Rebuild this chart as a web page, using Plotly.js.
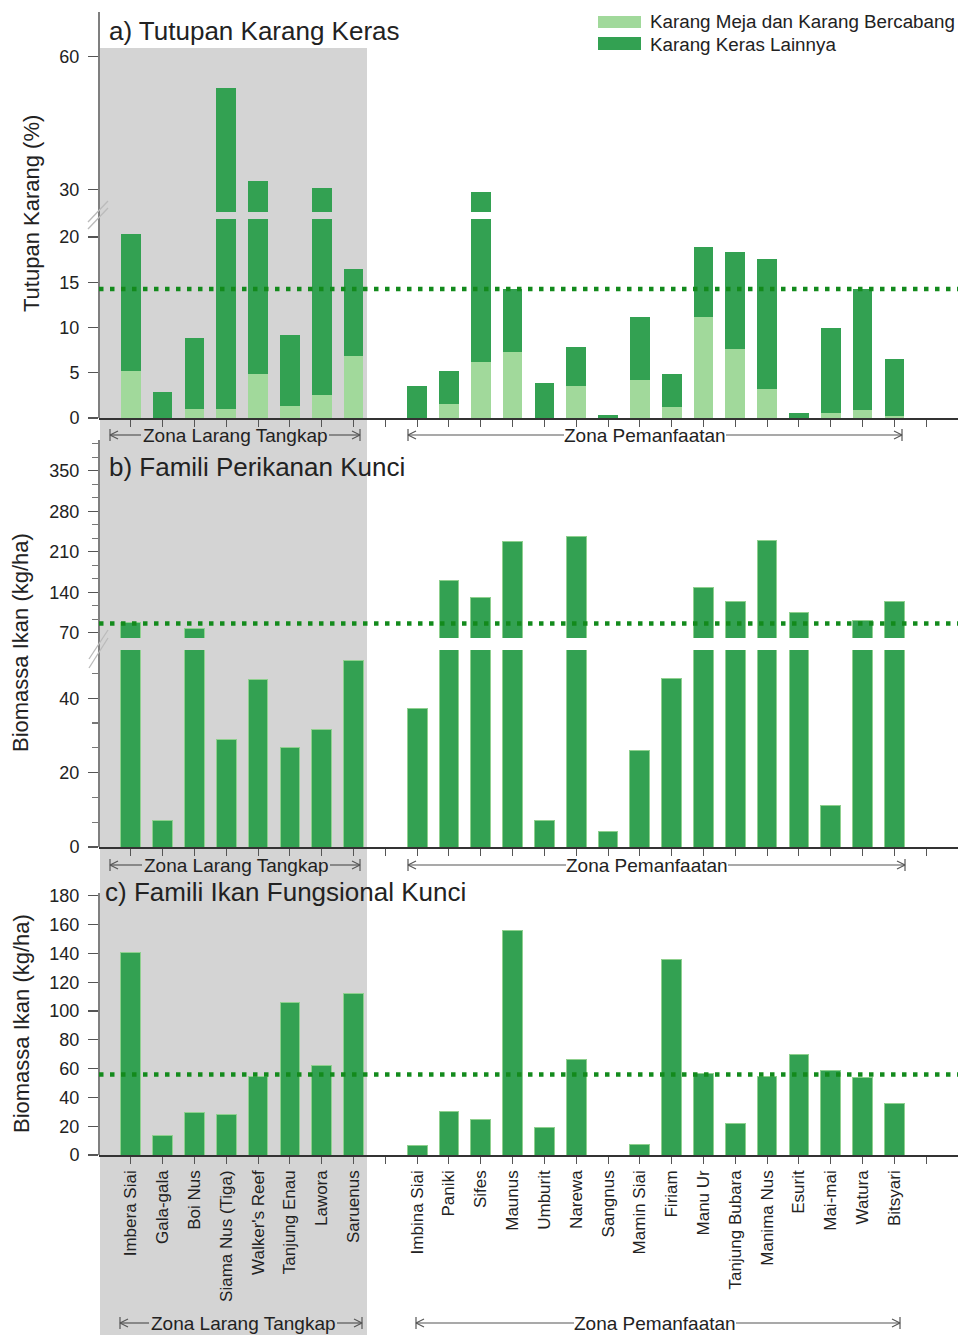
<!DOCTYPE html>
<html><head><meta charset="utf-8">
<script src="https://cdn.plot.ly/plotly-3.0.1.min.js"></script>
<style>html,body{margin:0;padding:0;background:#fff}#chart{width:962px;height:1335px}</style>
</head><body><div id="chart"></div>
<script>
// ---------------- DATA ----------------
const noTakeSites = ['Imbera Siai','Gala-gala','Boi Nus','Siama Nus (Tiga)',"Walker's Reef",'Tanjung Enau','Lawora','Saruenus'];
const useSites = ['Imbina Siai','Paniki','Sifes','Maunus','Umburit','Narewa','Sangnus','Mamin Siai','Firiam','Manu Ur','Tanjung Bubara','Manima Nus','Esurit','Mai-mai','Watura','Bitsyari'];
// a) hard coral cover (%)
const tableBranching = [5.2,0,1.0,1.0,4.9,1.3,2.5,6.9,  0,1.5,6.2,7.3,0,3.5,0,4.2,1.2,11.2,7.6,3.2,0,0.55,0.9,0.2];
const otherHard      = [15.1,2.9,7.9,51.9,27.1,7.9,27.8,9.6,  3.5,3.7,23.4,7.0,3.9,4.4,0.3,7.0,3.7,7.7,10.7,14.4,0.55,9.35,13.4,6.3];
// b) key fisheries families biomass (kg/ha)
const keyFisheries   = [87,7.0,77.6,28.9,45.0,26.9,31.7,50.3,  37.3,160.5,130.4,228.4,7.0,236.5,4.1,25.9,45.3,148.4,124.7,230,104.5,11.3,91.4,123.5];
// c) key functional families biomass (kg/ha)
const keyFunctional  = [140.4,13.4,29.2,27.8,54.4,106.1,62.1,112.1,  6.5,30.1,25.0,155.7,19.2,66,0,7.6,136,56.7,22,54.4,69.5,58.4,54,35.9];
// reference (mean) lines
const meanCover = 14.25, meanFisheries = 86, meanFunctional = 56;
// axis ticks
const ticksALow = [0,5,10,15,20], ticksAHigh = [30,60];

// ---------------- HELPERS ----------------
const sites = [...noTakeSites, ...useSites];
const cats = [...noTakeSites, ' ', ...useSites, '  '];
const W = 962, H = 1335, ML = 99, MR = 4;
const X = px => (px - ML) / (W - ML - MR);
const Y = py => 1 - py / H;

const DARK = '#33a152', LIGHT = '#a1d99b', DOT = '#138a1c', GREY = '#d4d4d4';
const FONT = 'Liberation Sans, Arial, sans-serif';
const edge = {color: '#8fd08f', width: 1};

const traces = [];
// panel a (lower + upper broken segments)
[['x','y'],['x','y2']].forEach(([xa, ya]) => {
  traces.push({type:'bar', x: sites, y: tableBranching, xaxis: xa, yaxis: ya, name: 'Karang Meja dan Karang Bercabang', marker:{color: LIGHT}, hoverinfo:'x+y'});
  traces.push({type:'bar', x: sites, y: otherHard, xaxis: xa, yaxis: ya, name: 'Karang Keras Lainnya', marker:{color: DARK}, hoverinfo:'x+y'});
});
// panel b
[['x2','y3'],['x2','y4']].forEach(([xa, ya]) => {
  traces.push({type:'bar', x: sites, y: keyFisheries, xaxis: xa, yaxis: ya, marker:{color: DARK, line: edge}});
});
// panel c
traces.push({type:'bar', x: sites, y: keyFunctional, xaxis: 'x3', yaxis: 'y5', marker:{color: DARK, line: edge}});

const xBase = {
  type:'category', categoryorder:'array', categoryarray: cats, range:[-1, 26],
  showline:true, linecolor:'#333', linewidth:1.5, ticks:'outside', ticklen:7, tickcolor:'#555', tickwidth:1,
  showgrid:false, zeroline:false, showticklabels:false, fixedrange:true, domain:[0,1]
};
const yBase = {
  showline:false, showgrid:false, zeroline:false, ticks:'outside', ticklen:10, tickcolor:'#555', tickwidth:1.2,
  ticklabelstandoff:5,
  tickfont:{size:18, color:'#222', family:FONT}, fixedrange:true
};

const shapes = [];
const annotations = [];
// grey no-take zone band
shapes.push({type:'rect', xref:'paper', yref:'paper', x0:X(100), x1:X(367), y0:0, y1:Y(48), fillcolor:GREY, line:{width:0}, layer:'below'});
// y axis lines
[[418,12],[847,440],[1155,893]].forEach(([b,t]) => shapes.push({type:'line', xref:'paper', yref:'paper', x0:X(99), x1:X(99), y0:Y(b), y1:Y(t), line:{color:'#555', width:1.5}}));
// axis break marks
[[[88,222],[108,201]],[[88,229],[108,208]],[[89,659],[108,630]],[[89,668],[108,638]]].forEach(([p,q]) =>
  shapes.push({type:'line', xref:'paper', yref:'paper', x0:X(p[0]), y0:Y(p[1]), x1:X(q[0]), y1:Y(q[1]), line:{color:'#bbbbbb', width:1.3}}));
// mean dotted lines
[['y',meanCover],['y4',meanFisheries],['y5',meanFunctional]].forEach(([ya,v]) =>
  shapes.push({type:'line', xref:'paper', yref:ya, x0:0, x1:1, y0:v, y1:v, line:{color:DOT, width:4.5, dash:'4.5px,6.5px'}, layer:'above'}));

// zone brackets
function bracket(x1, x2, y, cx, half, label) {
  const c = '#555', lw = 1.2;
  const L = (a,b,cc,d) => shapes.push({type:'line', xref:'paper', yref:'paper', x0:X(a), y0:Y(b), x1:X(cc), y1:Y(d), line:{color:c, width:lw}});
  L(x1, y, cx - half, y); L(cx + half, y, x2, y);
  L(x1, y-6, x1, y+6); L(x1, y, x1+8, y-4); L(x1, y, x1+8, y+4);
  L(x2, y-6, x2, y+6); L(x2, y, x2-8, y-4); L(x2, y, x2-8, y+4);
  annotations.push({xref:'paper', yref:'paper', x:X(cx), y:Y(y), text:label, showarrow:false, xanchor:'center', yanchor:'middle', font:{size:19, color:'#222', family:FONT}});
}
bracket(110, 360, 435, 235, 94, 'Zona Larang Tangkap');
bracket(408, 902, 435, 645, 81, 'Zona Pemanfaatan');
bracket(110, 360, 865, 236, 94, 'Zona Larang Tangkap');
bracket(408, 905, 865, 647, 81, 'Zona Pemanfaatan');
bracket(120, 362, 1323, 243, 94, 'Zona Larang Tangkap');
bracket(416, 900, 1323, 655, 81, 'Zona Pemanfaatan');

// panel titles
[['a) Tutupan Karang Keras',107,31],['b) Famili Perikanan Kunci',107,467],['c) Famili Ikan Fungsional Kunci',103,892]].forEach(([t,x,y]) =>
  annotations.push({xref:'paper', yref:'paper', x:X(x), y:Y(y), text:t, showarrow:false, xanchor:'left', yanchor:'middle', font:{size:26, color:'#222', family:FONT}}));
// y axis titles
[['Tutupan Karang (%)',31,214],['Biomassa Ikan (kg/ha)',21,643],['Biomassa Ikan (kg/ha)',21,1024]].forEach(([t,x,y]) =>
  annotations.push({xref:'paper', yref:'paper', x:X(x), y:Y(y), text:t, showarrow:false, textangle:-90, xanchor:'center', yanchor:'middle', font:{size:22, color:'#222', family:FONT}}));
// manual legend
[[LIGHT,16,28,'Karang Meja dan Karang Bercabang',22],[DARK,37,50,'Karang Keras Lainnya',44]].forEach(([col,t,b,txt,ty]) => {
  shapes.push({type:'rect', xref:'paper', yref:'paper', x0:X(598), x1:X(641), y0:Y(b), y1:Y(t), fillcolor:col, line:{width:0}});
  annotations.push({xref:'paper', yref:'paper', x:X(648), y:Y(ty), text:txt, showarrow:false, xanchor:'left', yanchor:'middle', font:{size:18.8, color:'#222', family:FONT}});
});

const layout = {
  width: W, height: H, margin:{l:ML, r:MR, t:0, b:0, pad:0},
  paper_bgcolor:'#fff', plot_bgcolor:'rgba(0,0,0,0)',
  font:{family:FONT, color:'#222'},
  barmode:'stack', bargap:0.38, showlegend:false,
  xaxis: Object.assign({}, xBase, {anchor:'y'}),
  xaxis2: Object.assign({}, xBase, {anchor:'y3'}),
  xaxis3: Object.assign({}, xBase, {anchor:'y5', showticklabels:true, tickangle:-90, tickfont:{size:17, color:'#222', family:FONT}}),
  yaxis: Object.assign({}, yBase, {anchor:'x', domain:[Y(418), Y(219)], range:[0,22], tickmode:'array', tickvals:ticksALow}),
  yaxis2: Object.assign({}, yBase, {anchor:'x', domain:[Y(212), Y(12)], range:[25,70], tickmode:'array', tickvals:ticksAHigh}),
  yaxis3: Object.assign({}, yBase, {anchor:'x2', domain:[Y(847), Y(650)], range:[0,53], tick0:0, dtick:20,
    minor:{tick0:0, dtick:20/3, ticks:'outside', ticklen:6, tickcolor:'#777', showgrid:false}}),
  yaxis4: Object.assign({}, yBase, {anchor:'x2', domain:[Y(638), Y(440)], range:[61,403], tick0:70, dtick:70,
    minor:{tick0:70, dtick:70/3, ticks:'outside', ticklen:6, tickcolor:'#777', showgrid:false}}),
  yaxis5: Object.assign({}, yBase, {anchor:'x3', domain:[Y(1155), Y(893)], range:[0,182], tick0:0, dtick:20}),
  shapes, annotations
};

Plotly.newPlot('chart', traces, layout, {staticPlot:true, displayModeBar:false});
</script>
</body></html>
